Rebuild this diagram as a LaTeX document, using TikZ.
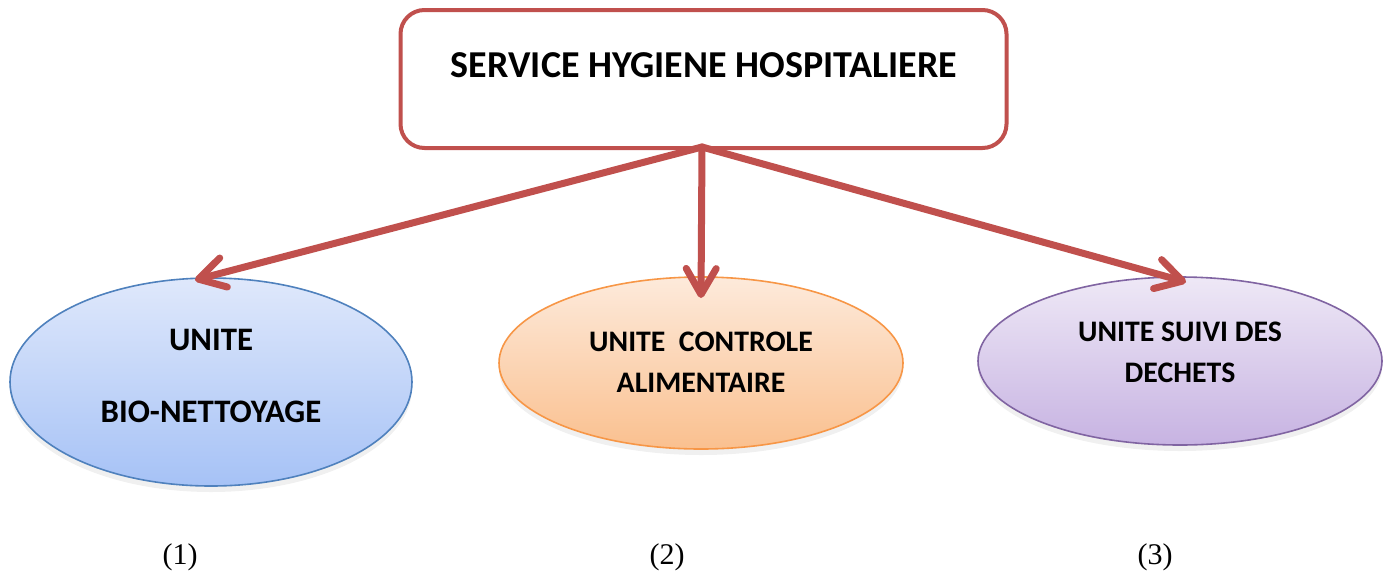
\documentclass[tikz,border=0pt]{standalone}
\usepackage{fontspec}
\setmainfont{Liberation Serif}
\newfontfamily\boxfont{Carlito}
\usetikzlibrary{arrows.meta,shapes.geometric,shadows}
\definecolor{arrowred}{HTML}{C0504D}
\definecolor{blueline}{HTML}{4F81BD}
\definecolor{bluetop}{HTML}{DFE8FB}
\definecolor{bluebot}{HTML}{A6C2F6}
\definecolor{orangeline}{HTML}{F79646}
\definecolor{orangetop}{HTML}{FDEADB}
\definecolor{orangebot}{HTML}{FAC08F}
\definecolor{purpleline}{HTML}{8064A2}
\definecolor{purpletop}{HTML}{EEE8F6}
\definecolor{purplebot}{HTML}{C7B3E2}
\tikzset{
  headbox/.style={draw=arrowred, line width=2pt, rounded corners=12pt, fill=white,
    minimum width=303pt, minimum height=69pt, inner sep=0pt},
  headtext/.style={font=\boxfont\bfseries\fontsize{19}{22}\selectfont},
  unit/.style={ellipse, line width=0.8pt, inner sep=0pt,
    drop shadow={opacity=0.12, shadow xshift=0pt, shadow yshift=-3pt}},
  unittext/.style={font=\boxfont\bfseries\fontsize{16.4}{20}\selectfont},
  smallunittext/.style={font=\boxfont\bfseries\fontsize{14.9}{18}\selectfont},
  link/.style={draw=arrowred, line width=3.5pt, line cap=round,
    -{Straight Barb[length=13pt, width=15pt, round]}},
  numlabel/.style={font=\fontsize{15}{17}\selectfont}
}
\begin{document}
\begin{tikzpicture}[x=0.5pt, y=-0.5pt]
  \useasboundingbox (0,0) rectangle (1390,574);

  % top service box
  \node[headbox] (svc) at (703.5,79) {};
  \node[headtext] (svctext) at (704,65) {SERVICE HYGIENE HOSPITALIERE};
  \coordinate (src) at (702,147);

  % the three units
  \node[unit, draw=blueline, top color=bluetop, bottom color=bluebot,
        minimum width=201pt, minimum height=104pt] (u1) at (211,382) {};
  \node[unittext] (u1a) at (211,340) {UNITE};
  \node[unittext] (u1b) at (211,412) {BIO-NETTOYAGE};

  \node[unit, draw=orangeline, top color=orangetop, bottom color=orangebot,
        minimum width=202pt, minimum height=86pt] (u2) at (701,363) {};
  \node[smallunittext] (u2a) at (701,342) {UNITE\ \ CONTROLE};
  \node[smallunittext] (u2b) at (701,383) {ALIMENTAIRE};

  \node[unit, draw=purpleline, top color=purpletop, bottom color=purplebot,
        minimum width=202pt, minimum height=84pt] (u3) at (1180,361) {};
  \node[smallunittext] (u3a) at (1180,332) {UNITE SUIVI DES};
  \node[smallunittext] (u3b) at (1180,373) {DECHETS};

  % tips of the connectors, resting on the top of each unit
  \coordinate (t1) at (195,280);
  \coordinate (t2) at (701,298);
  \coordinate (t3) at (1186,282);

  \draw[link] (src) -- (t1);
  \draw[link] (src) -- (t2);
  \draw[link] (src) -- (t3);

  % numbering
  \node[numlabel] (n1) at (180,557) {(1)};
  \node[numlabel] (n2) at (667,557) {(2)};
  \node[numlabel] (n3) at (1155,557) {(3)};
\end{tikzpicture}
\end{document}
